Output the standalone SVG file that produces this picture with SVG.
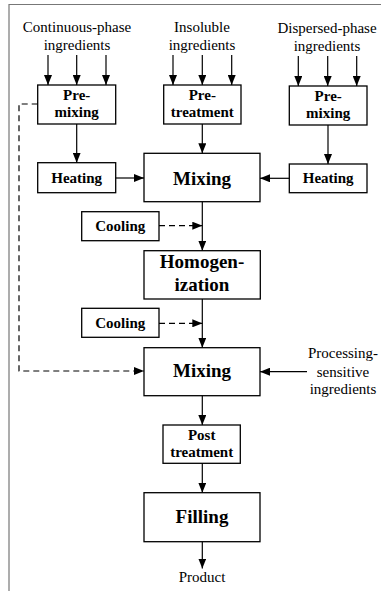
<svg xmlns="http://www.w3.org/2000/svg" width="381" height="591" viewBox="0 0 381 591">
<style>
.box{fill:#fff;stroke:#000;stroke-width:1.3}
.t{font-family:"Liberation Serif","Times New Roman",serif;font-size:15px;fill:#000;text-anchor:middle}
.b{font-weight:bold}
.big{font-size:19px;font-weight:bold}
.ln{fill:none;stroke:#000;stroke-width:1.2}
.dash{stroke-dasharray:6,4}
.frame{fill:none;stroke:#777;stroke-width:1.2}
</style>
<defs>
<marker id="ah" markerUnits="userSpaceOnUse" markerWidth="10" markerHeight="8" refX="10" refY="4" orient="auto">
<path d="M0,0 L10,4 L0,8 z" fill="#000"/>
</marker>
</defs>
<rect width="381" height="591" fill="#fff"/>
<path class="frame" d="M381,4.5 H9 V591"/>

<g id="labels">
<text class="t" x="77" y="32">Continuous-phase</text>
<text class="t" x="77" y="50">ingredients</text>
<text class="t" x="202" y="32">Insoluble</text>
<text class="t" x="202" y="50">ingredients</text>
<text class="t" x="327" y="33">Dispersed-phase</text>
<text class="t" x="327" y="51">ingredients</text>
<text class="t" x="343" y="358">Processing-</text>
<text class="t" x="343" y="376.5">sensitive</text>
<text class="t" x="343" y="394">ingredients</text>
<text class="t" x="202" y="582">Product</text>
</g>

<g id="premix1"><rect class="box" x="37.7" y="85" width="78" height="39"/>
<text class="t b" x="76.7" y="99.5">Pre-</text><text class="t b" x="76.7" y="117">mixing</text></g>
<g id="pretreat"><rect class="box" x="163.7" y="85" width="77.3" height="39"/>
<text class="t b" x="202.3" y="99.5">Pre-</text><text class="t b" x="202.3" y="117">treatment</text></g>
<g id="premix2"><rect class="box" x="289.3" y="86" width="77.7" height="39"/>
<text class="t b" x="328.2" y="100.5">Pre-</text><text class="t b" x="328.2" y="118">mixing</text></g>
<g id="heat1"><rect class="box" x="37.7" y="162.7" width="78" height="30"/>
<text class="t b" x="76.7" y="182.7">Heating</text></g>
<g id="heat2"><rect class="box" x="289.3" y="164" width="77.7" height="28.7"/>
<text class="t b" x="328.2" y="183">Heating</text></g>
<g id="mix1"><rect class="box" x="144" y="153.3" width="116" height="48.4"/>
<text class="t big" x="202" y="185">Mixing</text></g>
<g id="cool1"><rect class="box" x="81.7" y="211.7" width="77.3" height="29"/>
<text class="t b" x="120.3" y="230.7">Cooling</text></g>
<g id="homog"><rect class="box" x="144" y="250.7" width="116.3" height="48.3"/>
<text class="t big" x="202" y="268.3">Homogen-</text><text class="t big" x="202" y="290.7">ization</text></g>
<g id="cool2"><rect class="box" x="81.7" y="308.3" width="77.3" height="29"/>
<text class="t b" x="120.3" y="328">Cooling</text></g>
<g id="mix2"><rect class="box" x="144" y="347.7" width="116" height="48"/>
<text class="t big" x="202" y="376.7">Mixing</text></g>
<g id="post"><rect class="box" x="163" y="425" width="77.3" height="38.3"/>
<text class="t b" x="201.7" y="440">Post</text><text class="t b" x="201.7" y="457.3">treatment</text></g>
<g id="fill"><rect class="box" x="144" y="492.7" width="116" height="49"/>
<text class="t big" x="202" y="523.3">Filling</text></g>

<g id="connectors">
<path class="ln" marker-end="url(#ah)" d="M48,55 V85"/>
<path class="ln" marker-end="url(#ah)" d="M76.7,55 V85"/>
<path class="ln" marker-end="url(#ah)" d="M106,55 V85"/>
<path class="ln" marker-end="url(#ah)" d="M173,55 V85"/>
<path class="ln" marker-end="url(#ah)" d="M202.3,55 V85"/>
<path class="ln" marker-end="url(#ah)" d="M231.7,55 V85"/>
<path class="ln" marker-end="url(#ah)" d="M298.3,56 V86"/>
<path class="ln" marker-end="url(#ah)" d="M327.7,56 V86"/>
<path class="ln" marker-end="url(#ah)" d="M356.7,56 V86"/>
<path class="ln" marker-end="url(#ah)" d="M76.7,124 V162.7"/>
<path class="ln" marker-end="url(#ah)" d="M202.3,124 V153.3"/>
<path class="ln" marker-end="url(#ah)" d="M328,125 V164"/>
<path class="ln" marker-end="url(#ah)" d="M115.7,178 H144"/>
<path class="ln" marker-end="url(#ah)" d="M289.3,178.3 H260"/>
<path class="ln" marker-end="url(#ah)" d="M202.3,201.7 V250.7"/>
<path class="ln dash" marker-end="url(#ah)" d="M159,225.7 H202.3"/>
<path class="ln" marker-end="url(#ah)" d="M202.3,299 V347.7"/>
<path class="ln dash" marker-end="url(#ah)" d="M159,323.3 H202.3"/>
<path class="ln dash" marker-end="url(#ah)" d="M37.7,104 H19 V371 H144"/>
<path class="ln" marker-end="url(#ah)" d="M307,371.7 H260"/>
<path class="ln" marker-end="url(#ah)" d="M202.3,395.7 V425"/>
<path class="ln" marker-end="url(#ah)" d="M202.3,463.3 V492.7"/>
<path class="ln" marker-end="url(#ah)" d="M202.3,541.7 V568.5"/>
</g>
</svg>
